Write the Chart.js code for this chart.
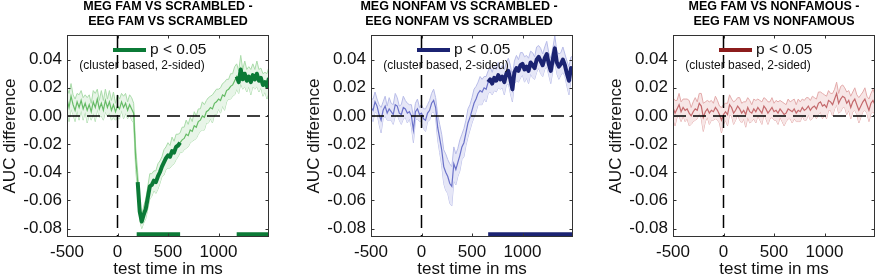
<!DOCTYPE html>
<html>
<head>
<meta charset="utf-8">
<script src="https://cdn.jsdelivr.net/npm/chart.js@4.4.0/dist/chart.umd.min.js"></script>
<style>
html, body { margin:0; padding:0; background:#fff; width:876px; height:278px; overflow:hidden; position:relative; }
canvas { position:absolute; top:0; }
</style>
</head>
<body>
<canvas id="c1" width="300" height="278" style="left:0px"></canvas>
<canvas id="c2" width="300" height="278" style="left:304px"></canvas>
<canvas id="c3" width="300" height="278" style="left:606px"></canvas>
<script>
// test time (ms), 20 ms steps
var times = [
-500,-480,-460,-440,-420,-400,-380,-360,-340,-320,
-300,-280,-260,-240,-220,-200,-180,-160,-140,-120,
-100,-80,-60,-40,-20,0,20,40,60,80,
100,120,140,160,180,200,220,240,260,280,
300,320,340,360,380,400,420,440,460,480,
500,520,540,560,580,600,620,640,660,680,
700,720,740,760,780,800,820,840,860,880,
900,920,940,960,980,1000,1020,1040,1060,1080,
1100,1120,1140,1160,1180,1200,1220,1240,1260,1280,
1300,1320,1340,1360,1380,1400,1420,1440,1460,1480,
1500];

var xTicks = [-500, 0, 500, 1000];
var yTicks = [-0.08, -0.06, -0.04, -0.02, 0.00, 0.02, 0.04];
var sigLevel = -0.084;

// MEG FAM VS SCRAMBLED - EEG FAM VS SCRAMBLED
var famMean = [
0.012,0.006,0.014,0.008,0.004,0.010,0.006,0.011,0.005,0.009,
0.004,0.008,0.003,0.010,0.006,0.012,0.005,0.009,0.004,0.011,
0.006,0.010,0.004,0.008,0.003,0.007,0.005,0.010,0.006,0.009,
0.004,0.008,0.005,0.002,-0.030,-0.047,-0.068,-0.075,-0.070,-0.066,
-0.058,-0.050,-0.049,-0.046,-0.047,-0.043,-0.040,-0.036,-0.033,-0.030,
-0.028,-0.029,-0.025,-0.026,-0.022,-0.021,-0.019,-0.017,-0.016,-0.013,
-0.014,-0.010,-0.011,-0.007,-0.008,-0.004,-0.003,0.000,-0.001,0.003,
0.004,0.006,0.005,0.009,0.010,0.012,0.011,0.015,0.014,0.018,
0.019,0.021,0.022,0.025,0.028,0.024,0.033,0.026,0.030,0.025,
0.028,0.024,0.029,0.026,0.030,0.025,0.027,0.022,0.024,0.021,
0.027];
var famErr = [
0.008,0.010,0.009,0.007,0.008,0.006,0.009,0.007,0.008,0.006,
0.009,0.007,0.006,0.008,0.010,0.007,0.006,0.009,0.007,0.008,
0.006,0.008,0.007,0.009,0.006,0.008,0.007,0.006,0.008,0.007,
0.006,0.007,0.008,0.007,0.008,0.007,0.006,0.005,0.006,0.007,
0.008,0.009,0.008,0.007,0.008,0.009,0.008,0.007,0.009,0.008,
0.009,0.008,0.010,0.008,0.009,0.008,0.007,0.009,0.008,0.010,
0.008,0.009,0.007,0.010,0.008,0.009,0.008,0.010,0.009,0.008,
0.009,0.008,0.010,0.008,0.009,0.007,0.009,0.008,0.010,0.008,
0.007,0.009,0.008,0.010,0.009,0.008,0.010,0.007,0.009,0.008,
0.007,0.009,0.008,0.007,0.009,0.008,0.007,0.008,0.007,0.009,
0.008];
var famSig = [[190, 620], [1180, 1500]];

// MEG NONFAM VS SCRAMBLED - EEG NONFAM VS SCRAMBLED
var nonfamMean = [
0.006,0.004,0.010,0.007,0.001,-0.003,0.004,0.007,0.002,0.005,
0.003,0.001,0.008,0.007,0.002,0.001,0.006,0.005,0.002,0.003,
0.000,-0.010,0.003,0.005,0.001,0.002,-0.002,-0.003,0.002,0.004,
0.009,0.011,0.006,-0.008,-0.016,-0.024,-0.036,-0.040,-0.043,-0.048,
-0.050,-0.034,-0.038,-0.033,-0.028,-0.022,-0.019,-0.012,-0.005,-0.001,
0.004,0.009,0.012,0.016,0.018,0.017,0.020,0.019,0.024,0.026,
0.023,0.027,0.025,0.029,0.026,0.028,0.024,0.030,0.032,0.026,
0.019,0.031,0.034,0.032,0.036,0.037,0.033,0.035,0.032,0.038,
0.036,0.034,0.040,0.042,0.039,0.036,0.041,0.044,0.037,0.032,
0.040,0.048,0.038,0.035,0.037,0.040,0.036,0.030,0.025,0.034,
0.033];
var nonfamErr = [
0.006,0.008,0.007,0.005,0.007,0.009,0.006,0.007,0.005,0.008,
0.006,0.007,0.008,0.006,0.005,0.007,0.008,0.006,0.007,0.005,
0.008,0.009,0.006,0.007,0.005,0.006,0.007,0.008,0.006,0.007,
0.007,0.008,0.007,0.009,0.010,0.011,0.012,0.013,0.012,0.014,
0.014,0.012,0.011,0.010,0.011,0.009,0.010,0.009,0.010,0.009,
0.009,0.010,0.009,0.008,0.010,0.009,0.008,0.009,0.008,0.009,
0.008,0.009,0.008,0.009,0.007,0.008,0.009,0.008,0.009,0.010,
0.009,0.008,0.009,0.008,0.009,0.008,0.009,0.008,0.009,0.008,
0.009,0.008,0.009,0.008,0.009,0.008,0.008,0.009,0.008,0.009,
0.008,0.009,0.008,0.009,0.008,0.009,0.008,0.009,0.010,0.008,
0.009];
var nonfamSig = [[660, 1500]];

// MEG FAM VS NONFAMOUS - EEG FAM VS NONFAMOUS
var famNonMean = [
0.006,0.002,0.005,0.008,0.003,0.006,0.004,0.005,0.002,0.000,
0.003,0.005,0.004,0.009,0.007,-0.001,0.003,0.005,0.002,0.004,
0.003,0.006,0.004,0.001,-0.003,0.001,0.003,0.001,0.008,0.006,
0.002,0.004,0.007,0.005,0.002,0.004,0.001,0.006,0.003,0.002,
0.005,0.003,0.006,0.004,0.002,0.007,0.005,0.002,0.004,0.006,
0.003,0.004,0.002,0.005,0.003,0.001,0.002,0.005,0.004,0.003,
0.005,0.002,0.004,0.003,0.006,0.004,0.005,0.007,0.004,0.006,
0.007,0.005,0.009,0.010,0.007,0.008,0.006,0.011,0.010,0.008,
0.012,0.016,0.009,0.012,0.014,0.013,0.009,0.011,0.006,0.010,
0.012,0.008,0.004,0.007,0.010,0.012,0.008,0.004,0.009,0.011,
0.008];
var famNonErr = [
0.007,0.009,0.006,0.008,0.007,0.006,0.008,0.007,0.009,0.006,
0.007,0.008,0.006,0.007,0.009,0.010,0.007,0.006,0.008,0.007,
0.006,0.008,0.007,0.006,0.009,0.007,0.006,0.008,0.007,0.006,
0.008,0.007,0.006,0.008,0.007,0.006,0.009,0.007,0.008,0.006,
0.007,0.008,0.006,0.007,0.008,0.006,0.007,0.008,0.006,0.007,
0.006,0.007,0.008,0.006,0.007,0.008,0.006,0.007,0.006,0.008,
0.007,0.006,0.008,0.007,0.006,0.007,0.008,0.006,0.007,0.008,
0.006,0.007,0.008,0.007,0.009,0.007,0.008,0.007,0.006,0.008,
0.007,0.008,0.007,0.009,0.008,0.007,0.008,0.007,0.008,0.007,
0.008,0.007,0.009,0.008,0.007,0.008,0.006,0.008,0.007,0.008,
0.007];
var famNonSig = [];

var FONT = '"Liberation Sans", Arial, Helvetica, sans-serif';
var INK = '#111';

var framePlugin = {
  id: 'frame',
  afterDatasetsDraw: function(chart, args, o) {
    var ctx = chart.ctx, a = chart.chartArea, x = chart.scales.x, y = chart.scales.y;
    ctx.save();
    // legend
    var ly = a.top + 15;
    ctx.strokeStyle = o.dark; ctx.lineWidth = 4; ctx.lineCap = 'butt';
    ctx.beginPath(); ctx.moveTo(a.left + 46, ly); ctx.lineTo(a.left + 79, ly); ctx.stroke();
    ctx.fillStyle = INK; ctx.textBaseline = 'middle';
    ctx.font = '15.5px ' + FONT; ctx.textAlign = 'left';
    ctx.fillText('p < 0.05', a.left + 83, ly);
    ctx.font = '12px ' + FONT; ctx.textAlign = 'center';
    ctx.fillText('(cluster based, 2-sided)', a.left + 75, a.top + 31);
    // zero lines
    ctx.strokeStyle = '#000'; ctx.lineWidth = 1.5; ctx.setLineDash([13, 7]);
    var x0 = x.getPixelForValue(0), y0 = y.getPixelForValue(0);
    ctx.beginPath(); ctx.moveTo(x0, a.top); ctx.lineTo(x0, a.bottom); ctx.stroke();
    ctx.beginPath(); ctx.moveTo(a.left, y0); ctx.lineTo(a.right, y0); ctx.stroke();
    ctx.restore();
  },
  afterDraw: function(chart, args, o) {
    var ctx = chart.ctx, a = chart.chartArea, x = chart.scales.x, y = chart.scales.y;
    ctx.save();
    ctx.strokeStyle = '#333'; ctx.lineWidth = 1;
    var L = Math.round(a.left) + 0.5, R = Math.round(a.right) - 0.5,
        T = Math.round(a.top) + 0.5, B = Math.round(a.bottom) - 0.5;
    ctx.strokeRect(L, T, R - L, B - T);
    ctx.beginPath();
    xTicks.forEach(function(v) {
      var px = Math.round(x.getPixelForValue(v)) + 0.5;
      ctx.moveTo(px, B); ctx.lineTo(px, B - 3);
      ctx.moveTo(px, T); ctx.lineTo(px, T + 3);
    });
    yTicks.forEach(function(v) {
      var py = Math.round(y.getPixelForValue(v)) + 0.5;
      ctx.moveTo(L, py); ctx.lineTo(L + 3, py);
      ctx.moveTo(R, py); ctx.lineTo(R - 3, py);
    });
    ctx.stroke();
    // panel title
    var cx = (a.left + a.right) / 2 + o.shift;
    ctx.fillStyle = '#000'; ctx.font = 'bold 12.5px ' + FONT;
    ctx.textAlign = 'center'; ctx.textBaseline = 'middle';
    ctx.fillText(o.title[0], cx, 7);
    ctx.fillText(o.title[1], cx, 21.5);
    ctx.restore();
  }
};

function inSig(t, ranges) {
  for (var i = 0; i < ranges.length; i++) {
    if (t >= ranges[i][0] && t <= ranges[i][1]) return true;
  }
  return false;
}

function makePanel(id, mean, err, sig, col, title, shift) {
  var upper = times.map(function(t, i) { return {x: t, y: mean[i] + err[i]}; });
  var lower = times.map(function(t, i) { return {x: t, y: mean[i] - err[i]}; });
  var avg = times.map(function(t, i) { return {x: t, y: mean[i]}; });
  var thick = times.map(function(t, i) { return {x: t, y: inSig(t, sig) ? mean[i] : null}; });
  var bars = [];
  sig.forEach(function(r) {
    bars.push({x: r[0], y: sigLevel}, {x: r[1], y: sigLevel}, {x: r[1], y: null});
  });
  var base = {pointRadius: 0, tension: 0, spanGaps: false};
  var tickFont = {family: FONT, size: 17};
  new Chart(document.getElementById(id), {
    type: 'line',
    data: {
      datasets: [
        Object.assign({data: upper, order: 3, borderColor: col.edge, borderWidth: 1, fill: '+1', backgroundColor: col.band}, base),
        Object.assign({data: lower, order: 3, borderColor: col.edge, borderWidth: 1, fill: false}, base),
        Object.assign({data: avg, order: 2, borderColor: col.mean, borderWidth: 1.2, fill: false}, base),
        Object.assign({data: thick, order: 1, borderColor: col.dark, borderWidth: 4, fill: false, borderJoinStyle: 'round'}, base),
        Object.assign({data: bars, order: 1, borderColor: col.dark, borderWidth: 4, fill: false, borderCapStyle: 'butt'}, base)
      ]
    },
    options: {
      responsive: false,
      animation: false,
      devicePixelRatio: 1,
      layout: {padding: {top: 35, right: 31, left: 0, bottom: 0}},
      plugins: {
        legend: {display: false},
        tooltip: {enabled: false},
        frame: {dark: col.dark, title: title, shift: shift}
      },
      scales: {
        x: {
          type: 'linear', min: -500, max: 1500,
          grid: {display: false, drawTicks: false},
          border: {display: false},
          ticks: {font: tickFont, color: INK, padding: 5, maxRotation: 0, autoSkip: false,
                  callback: function(v) { return String(v); }},
          afterBuildTicks: function(s) { s.ticks = xTicks.map(function(v) { return {value: v}; }); },
          afterFit: function(s) { s.height = 41; },
          title: {display: true, text: 'test time in ms', color: INK, padding: 0,
                  font: {family: FONT, size: 17, lineHeight: 1}}
        },
        y: {
          type: 'linear', min: -0.086, max: 0.0575,
          grid: {display: false, drawTicks: false},
          border: {display: false},
          ticks: {font: tickFont, color: INK, padding: 5,
                  callback: function(v) { return v.toFixed(2); }},
          afterBuildTicks: function(s) { s.ticks = yTicks.map(function(v) { return {value: v}; }); },
          afterFit: function(s) { s.width = 67; },
          title: {display: true, text: 'AUC difference', color: INK, padding: {top: 2, bottom: 0},
                  font: {family: FONT, size: 17, lineHeight: 1}}
        }
      }
    },
    plugins: [framePlugin]
  });
}

var green = {dark: '#0b7a36', mean: '#66bb66', edge: '#a9dba9', band: '#e8f5e8'};
var navy = {dark: '#1b2372', mean: '#6b72c9', edge: '#b8bce8', band: '#e6e7f7'};
var red = {dark: '#8c1c1c', mean: '#c46a6d', edge: '#e3aaaa', band: '#f7e6e6'};

makePanel('c1', famMean, famErr, famSig, green,
  ['MEG FAM VS SCRAMBLED -', 'EEG FAM VS SCRAMBLED'], 0);
makePanel('c2', nonfamMean, nonfamErr, nonfamSig, navy,
  ['MEG NONFAM VS SCRAMBLED -', 'EEG NONFAM VS SCRAMBLED'], -13);
makePanel('c3', famNonMean, famNonErr, famNonSig, red,
  ['MEG FAM VS NONFAMOUS -', 'EEG FAM VS NONFAMOUS'], 0);
</script>
</body>
</html>
